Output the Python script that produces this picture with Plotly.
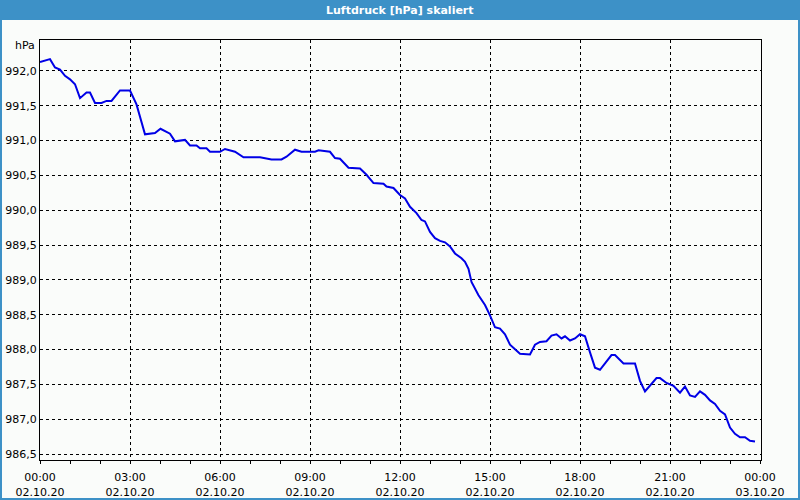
import plotly.graph_objects as go

# --- data ---
times = ["00:00", "00:20", "00:30", "00:40", "00:50", "01:00", "01:10", "01:20", "01:33", "01:40",
         "01:50", "02:03", "02:13", "02:23", "02:40", "03:00", "03:13", "03:30", "03:50", "04:01",
         "04:20", "04:30", "04:50", "05:00", "05:13", "05:20", "05:33", "05:40", "06:00", "06:10",
         "06:30", "06:47", "07:20", "07:43", "08:03", "08:13", "08:30", "08:43", "09:10", "09:17",
         "09:40", "09:50", "10:00", "10:17", "10:40", "10:53", "11:07", "11:27", "11:33", "11:47",
         "12:00", "12:10", "12:20", "12:33", "12:43", "12:50", "13:00", "13:10", "13:20", "13:30",
         "13:40", "13:50", "14:03", "14:10", "14:17", "14:23", "14:37", "14:43", "14:50", "15:00",
         "15:10", "15:20", "15:30", "15:40", "15:50", "16:00", "16:20", "16:30", "16:40", "16:53",
         "17:03", "17:13", "17:23", "17:30", "17:40", "17:50", "18:00", "18:10", "18:20", "18:30",
         "18:40", "18:50", "19:03", "19:10", "19:20", "19:27", "19:50", "20:00", "20:10", "20:20",
         "20:33", "20:40", "20:53", "21:07", "21:20", "21:30", "21:40", "21:50", "22:00", "22:10",
         "22:20", "22:30", "22:40", "22:50", "23:00", "23:10", "23:20", "23:30", "23:40", "23:50"]
pressure = [992.13, 992.17, 992.05, 992.02, 991.93, 991.88, 991.81, 991.61, 991.69, 991.69,
            991.54, 991.54, 991.57, 991.57, 991.72, 991.72, 991.52, 991.09, 991.11, 991.17,
            991.10, 990.99, 991.01, 990.93, 990.93, 990.89, 990.89, 990.84, 990.84, 990.88,
            990.84, 990.76, 990.76, 990.73, 990.73, 990.77, 990.87, 990.84, 990.84, 990.86,
            990.84, 990.75, 990.74, 990.61, 990.60, 990.51, 990.39, 990.38, 990.34, 990.32,
            990.22, 990.17, 990.05, 989.96, 989.86, 989.84, 989.69, 989.60, 989.56, 989.54,
            989.48, 989.38, 989.31, 989.26, 989.16, 988.97, 988.78, 988.71, 988.64, 988.49,
            988.32, 988.30, 988.22, 988.07, 988.01, 987.94, 987.93, 988.07, 988.11, 988.12,
            988.20, 988.22, 988.16, 988.19, 988.13, 988.16, 988.22, 988.19, 987.96, 987.74,
            987.71, 987.80, 987.92, 987.92, 987.84, 987.80, 987.80, 987.55, 987.40, 987.48,
            987.59, 987.59, 987.52, 987.48, 987.38, 987.47, 987.34, 987.32, 987.40, 987.35,
            987.27, 987.22, 987.12, 987.07, 986.88, 986.79, 986.74, 986.74, 986.69, 986.68]
tick_times = ["2020-10-02 00:00", "2020-10-02 03:00", "2020-10-02 06:00", "2020-10-02 09:00",
              "2020-10-02 12:00", "2020-10-02 15:00", "2020-10-02 18:00", "2020-10-02 21:00",
              "2020-10-03 00:00"]
tick_labels = ["00:00<br>02.10.20", "03:00<br>02.10.20", "06:00<br>02.10.20", "09:00<br>02.10.20",
               "12:00<br>02.10.20", "15:00<br>02.10.20", "18:00<br>02.10.20", "21:00<br>02.10.20",
               "00:00<br>03.10.20"]
title = "Luftdruck [hPa] skaliert"
unit = "hPa"

x = ["2020-10-02 " + t for t in times]

FONT = "DejaVu Sans"
BLUE_BAR = "#3d91c7"
BG = "#fafcfa"

fig = go.Figure()
fig.add_trace(go.Scatter(x=x, y=pressure, mode="lines",
                         line=dict(color="#0000e6", width=2), showlegend=False))

L, R, T, B = 40, 39, 40, 40
pw, ph = 800 - L - R, 500 - T - B

def px(xp):
    return (xp - L) / pw

def py(yp):
    return (500 - B - yp) / ph

fig.update_layout(
    width=800, height=500,
    margin=dict(l=L, r=R, t=T, b=B),
    paper_bgcolor=BLUE_BAR,
    plot_bgcolor=BG,
    separators=", ",
    font=dict(family=FONT, size=11, color="black"),
    shapes=[dict(type="rect", xref="paper", yref="paper", layer="below",
                 x0=px(2), x1=px(798), y0=py(498), y1=py(20),
                 fillcolor=BG, line=dict(width=0))],
    annotations=[
        dict(text="<b>" + title + "</b>", xref="paper", yref="paper",
             x=px(400), y=py(10), xanchor="center", yanchor="middle", showarrow=False,
             font=dict(family=FONT, size=11, color="white")),
        dict(text=unit, xref="paper", yref="paper",
             x=px(37), y=py(46), xanchor="right", yanchor="middle", showarrow=False,
             font=dict(family=FONT, size=11, color="black")),
    ],
)

fig.update_xaxes(
    type="date", automargin=False,
    range=["2020-10-02 00:00", "2020-10-03 00:02"],
    tickvals=tick_times, ticktext=tick_labels,
    showgrid=True, gridcolor="black", gridwidth=1, griddash="3px,3px",
    showline=True, linecolor="black", linewidth=1, mirror=True,
    ticks="outside", ticklen=3, tickcolor="black", ticklabelstandoff=4,
    minor=dict(dtick=3600000, ticks="outside", ticklen=3, tickcolor="black", showgrid=False),
    tickfont=dict(family=FONT, size=11),
    zeroline=False,
)
fig.update_yaxes(
    automargin=False,
    range=[986.414, 992.445],
    dtick=0.5, tick0=986.5, tickformat=".1f",
    showgrid=True, gridcolor="black", gridwidth=1, griddash="3px,3px",
    showline=True, linecolor="black", linewidth=1, mirror=True,
    ticks="", tickfont=dict(family=FONT, size=11),
    zeroline=False,
)

fig.write_html("out.html")
